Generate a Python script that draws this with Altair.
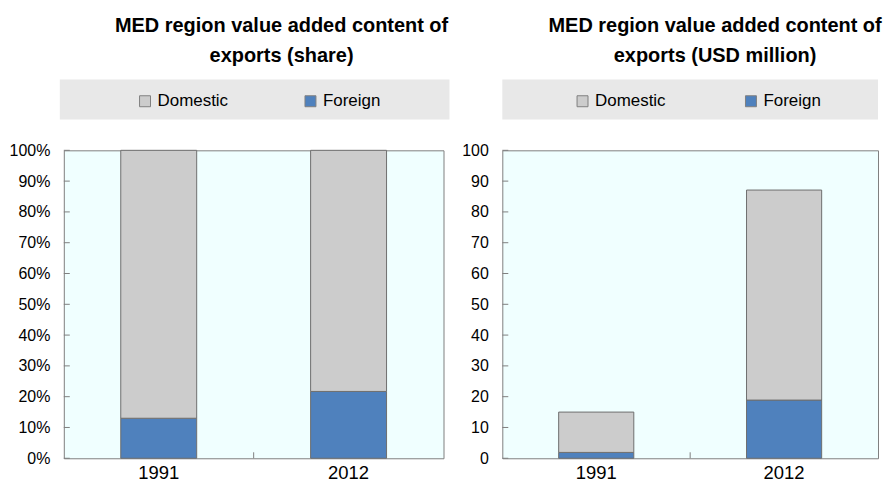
import altair as alt
import pandas as pd

years = ["1991", "2012"]
series = ["Domestic", "Foreign"]
share_domestic = [0.87, 0.783]
share_foreign = [0.13, 0.217]
usd_domestic = [13.1, 68.2]
usd_foreign = [1.9, 18.9]
share_ticks = [i / 10 for i in range(11)]
usd_ticks = list(range(0, 101, 10))

FONT = "Liberation Sans"
BLUE = "#4F81BD"
GREY = "#CCCCCC"
H = 309


def panel(dom_vals, for_vals, ticks, fmt, title, legend_x, col_pad, dx, w,
          box_x, box_x2):
    rows = []
    for i, y in enumerate(years):
        rows.append({"year": y, "series": "Foreign", "value": for_vals[i], "ord": 0})
        rows.append({"year": y, "series": "Domestic", "value": dom_vals[i], "ord": 1})
    df = pd.DataFrame(rows)
    ymax = ticks[-1]

    yaxis = alt.Axis(
        title=None, values=ticks, format=fmt,
        ticks=False, domain=False, grid=False, labelOverlap=False,
        labelFontSize=16, labelFont=FONT, labelColor="#000000",
        labelPadding=14,
    )
    yscale = alt.Scale(domain=[0, ymax], nice=False)

    box = alt.Chart(pd.DataFrame({"a": [0]})).mark_rect(
        color="#E8E8E8", clip=False
    ).encode(
        x=alt.value(box_x),
        x2=alt.value(box_x2),
        y=alt.value(-71),
        y2=alt.value(-31),
    )

    bars = alt.Chart(df).mark_bar(stroke="#6E6E6E", strokeWidth=1).encode(
        x=alt.X(
            "year:N",
            scale=alt.Scale(paddingInner=0.6, paddingOuter=0.3),
            axis=alt.Axis(
                title=None, labelAngle=0, ticks=False, domain=False,
                labelFontSize=18.5, labelFont=FONT, labelColor="#000000",
                labelPadding=5,
            ),
        ),
        y=alt.Y("value:Q", stack="zero", scale=yscale, axis=yaxis),
        color=alt.Color(
            "series:N",
            scale=alt.Scale(domain=series, range=[GREY, BLUE]),
            legend=alt.Legend(
                title=None, orient="none", legendX=legend_x, legendY=-58,
                direction="horizontal", symbolType="square", symbolSize=121,
                symbolStrokeColor="#808080", symbolStrokeWidth=1,
                labelFontSize=17, labelFont=FONT, labelColor="#000000",
                labelOffset=4, columnPadding=col_pad, padding=0,
            ),
        ),
        order=alt.Order("ord:Q"),
    )

    tdf = pd.DataFrame({"v": ticks})
    yticks = alt.Chart(tdf).mark_rule(color="#808080", strokeWidth=1).encode(
        y=alt.Y("v:Q", scale=yscale, axis=yaxis), x=alt.value(0), x2=alt.value(6)
    )
    xtick = alt.Chart(pd.DataFrame({"a": [0]})).mark_rule(
        color="#808080", strokeWidth=1
    ).encode(x=alt.value(w / 2), y=alt.value(H - 6), y2=alt.value(H))

    return alt.layer(box, bars, yticks, xtick).properties(
        width=w,
        height=H,
        title=alt.TitleParams(
            text=title, fontSize=20, fontWeight="bold", font=FONT,
            color="#000000", lineHeight=30, anchor="middle", dx=dx, offset=14,
        ),
    )


left = panel(share_domestic, share_foreign, share_ticks, "%",
             ["MED region value added content of", "exports (share)"],
             73, 74, 28, 381, -4, 387)
right = panel(usd_domestic, usd_foreign, usd_ticks, "d",
              ["MED region value added content of", "exports (USD million)"],
              72, 77, 25, 377, 0, 377)

chart = alt.hconcat(left, right, spacing=10).resolve_legend(color="independent").resolve_scale(
    color="independent", y="independent"
).configure(
    background="#FFFFFF", padding={"left": 0, "top": 6, "right": 0, "bottom": 0}
).configure_view(
    fill="#F0FFFF", stroke="#808080", strokeWidth=1
)

chart.save("out.html", embed_options={"renderer": "svg", "actions": False})
